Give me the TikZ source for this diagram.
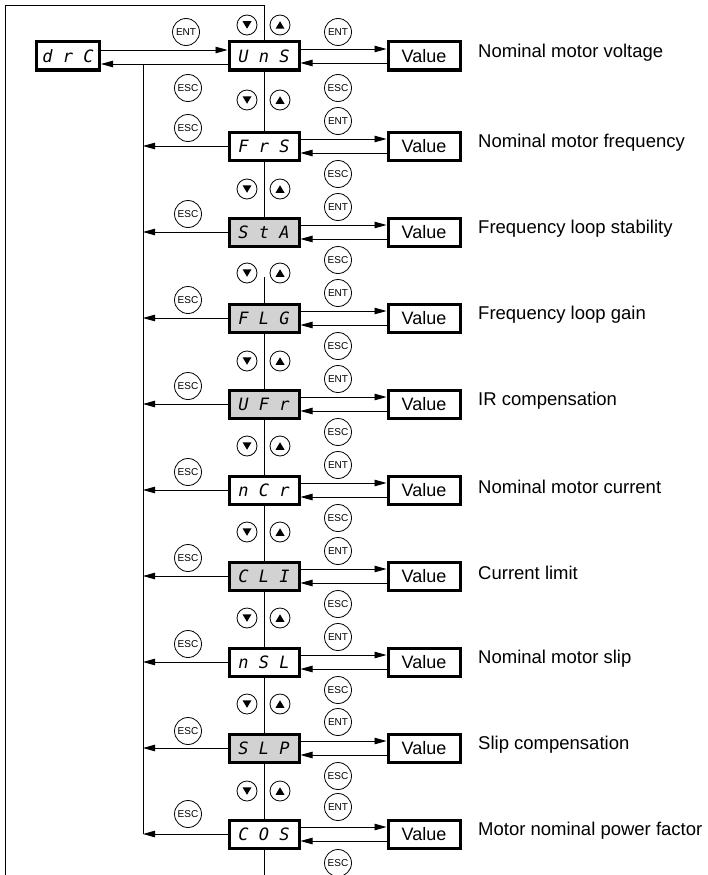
\documentclass[tikz,border=0pt]{standalone}
\usepackage{fontspec}
\setmainfont{Liberation Sans}
\newfontfamily\segfont{DejaVu Sans Mono}
\usetikzlibrary{arrows.meta}

\tikzset{
  wire/.style = {line width=0.9pt},
  arr/.style = {wire, -{Triangle[length=12pt,width=6.5pt]}},
  disp/.style = {draw, line width=3pt, minimum width=70pt, minimum height=28pt,
    inner sep=0pt, font=\segfont\itshape\fontsize{17}{17}\selectfont},
  dispgrey/.style = {disp, fill=gray!35},
  valbox/.style = {draw, line width=3pt, minimum width=72pt, minimum height=28pt,
    inner sep=0pt, font=\fontsize{18}{18}\selectfont},
  descr/.style = {anchor=west, inner sep=0pt, font=\fontsize{18.5}{18.5}\selectfont},
  btnkey/.style = {circle, draw, line width=0.8pt, minimum size=27pt, inner sep=0pt,
    font=\fontsize{10}{10}\selectfont},
  btndown/.style = {circle, draw, line width=0.8pt, minimum size=20pt, inner sep=0pt,
    path picture={\fill ([shift={(-4.5pt,3.75pt)}]path picture bounding box.center)
      -- ++(9pt,0pt) -- ++(-4.5pt,-7.5pt) -- cycle;}},
  btnup/.style = {circle, draw, line width=0.8pt, minimum size=20pt, inner sep=0pt,
    path picture={\fill ([shift={(-4.5pt,-3.75pt)}]path picture bounding box.center)
      -- ++(9pt,0pt) -- ++(-4.5pt,7.5pt) -- cycle;}}
}

\begin{document}
\begin{tikzpicture}[x=1pt,y=-1pt]
\useasboundingbox (0,0) rectangle (707,875);

% menu entry
\node[disp, minimum width=63pt] (drc) at (68,56) {d r C};

\begin{scope}[shift = {(0,56)}]
\node[disp] (uns) at (264,0) {U n S};
\node[valbox] (unsv) at (424,0) {Value};
\node[descr] (unsd) at (478,-3) {Nominal motor voltage};
\node[btnkey] (unsent) at (338,-24) {ENT};
\node[btnkey] (unsesc) at (338,32) {ESC};
\node[btnkey] (drcent) at (186,-24) {ENT};
\node[btnkey] (drcesc) at (188,32) {ESC};
\node[btndown] (unsdn) at (247,-31) {};
\node[btnup] (unsup) at (280,-31) {};
\draw[arr] ([yshift=7pt]uns.east) -- ([yshift=7pt]unsv.west);
\draw[arr] ([yshift=-7pt]unsv.west) -- ([yshift=-7pt]uns.east);
\draw[arr] ([yshift=6pt]drc.east) -- ([yshift=6pt]uns.west);
\draw[arr] ([yshift=-8pt]uns.west) -- ([yshift=-8pt]drc.east);
\end{scope}

% frame and return bus
\coordinate (frbl) at (5,875);
\coordinate (frtl) at (5,5);
\coordinate (frtr) at (264,5);
\draw[wire] (frbl) -- (frtl) -- (frtr) -- (uns.north);
\coordinate (bustop) at (143,64);
\coordinate (busbot) at (143,834);
\draw[wire] (bustop) -- (busbot);

\begin{scope}[shift = {(0,146)}]
\node[disp] (frs) at (264,0) {F r S};
\node[valbox] (frsv) at (424,0) {Value};
\node[descr] (frsd) at (478,-3) {Nominal motor frequency};
\node[btnkey] (frsent) at (338,-25) {ENT};
\node[btnkey] (frsesc) at (338,28) {ESC};
\node[btnkey] (frsback) at (188,-18) {ESC};
\node[btndown] (frsdn) at (247,-46) {};
\node[btnup] (frsup) at (280,-46) {};
\draw[arr] ([yshift=7pt]frs.east) -- ([yshift=7pt]frsv.west);
\draw[arr] ([yshift=-7pt]frsv.west) -- ([yshift=-7pt]frs.east);
\draw[arr] (frs.west) -- (frs.west -| bustop);
\draw[wire] (uns.south) -- (frs.north);
\end{scope}

\begin{scope}[shift = {(0,232)}]
\node[dispgrey] (sta) at (264,0) {S t A};
\node[valbox] (stav) at (424,0) {Value};
\node[descr] (stad) at (478,-3) {Frequency loop stability};
\node[btnkey] (staent) at (338,-25) {ENT};
\node[btnkey] (staesc) at (338,28) {ESC};
\node[btnkey] (staback) at (188,-18) {ESC};
\node[btndown] (stadn) at (247,-43) {};
\node[btnup] (staup) at (280,-43) {};
\draw[arr] ([yshift=7pt]sta.east) -- ([yshift=7pt]stav.west);
\draw[arr] ([yshift=-7pt]stav.west) -- ([yshift=-7pt]sta.east);
\draw[arr] (sta.west) -- (sta.west -| bustop);
\draw[wire] (frs.south) -- (sta.north);
\end{scope}

\begin{scope}[shift = {(0,318)}]
\node[dispgrey] (flg) at (264,0) {F L G};
\node[valbox] (flgv) at (424,0) {Value};
\node[descr] (flgd) at (478,-3) {Frequency loop gain};
\node[btnkey] (flgent) at (338,-25) {ENT};
\node[btnkey] (flgesc) at (338,28) {ESC};
\node[btnkey] (flgback) at (188,-18) {ESC};
\node[btndown] (flgdn) at (247,-45) {};
\node[btnup] (flgup) at (280,-45) {};
\coordinate (flgtop) at (264,-41);
\draw[arr] ([yshift=7pt]flg.east) -- ([yshift=7pt]flgv.west);
\draw[arr] ([yshift=-7pt]flgv.west) -- ([yshift=-7pt]flg.east);
\draw[arr] (flg.west) -- (flg.west -| bustop);
\draw[wire] (flgtop) -- (flg.north);
\end{scope}

\begin{scope}[shift = {(0,404)}]
\node[dispgrey] (ufr) at (264,0) {U F r};
\node[valbox] (ufrv) at (424,0) {Value};
\node[descr] (ufrd) at (478,-3) {IR compensation};
\node[btnkey] (ufrent) at (338,-25) {ENT};
\node[btnkey] (ufresc) at (338,28) {ESC};
\node[btnkey] (ufrback) at (188,-18) {ESC};
\node[btndown] (ufrdn) at (247,-43) {};
\node[btnup] (ufrup) at (280,-43) {};
\draw[arr] ([yshift=7pt]ufr.east) -- ([yshift=7pt]ufrv.west);
\draw[arr] ([yshift=-7pt]ufrv.west) -- ([yshift=-7pt]ufr.east);
\draw[arr] (ufr.west) -- (ufr.west -| bustop);
\draw[wire] (flg.south) -- (ufr.north);
\end{scope}

\begin{scope}[shift = {(0,490)}]
\node[disp] (ncr) at (264,0) {n C r};
\node[valbox] (ncrv) at (424,0) {Value};
\node[descr] (ncrd) at (478,-3) {Nominal motor current};
\node[btnkey] (ncrent) at (338,-25) {ENT};
\node[btnkey] (ncresc) at (338,28) {ESC};
\node[btnkey] (ncrback) at (188,-18) {ESC};
\node[btndown] (ncrdn) at (247,-44) {};
\node[btnup] (ncrup) at (280,-44) {};
\draw[arr] ([yshift=7pt]ncr.east) -- ([yshift=7pt]ncrv.west);
\draw[arr] ([yshift=-7pt]ncrv.west) -- ([yshift=-7pt]ncr.east);
\draw[arr] (ncr.west) -- (ncr.west -| bustop);
\draw[wire] (ufr.south) -- (ncr.north);
\end{scope}

\begin{scope}[shift = {(0,576)}]
\node[dispgrey] (cli) at (264,0) {C L I};
\node[valbox] (cliv) at (424,0) {Value};
\node[descr] (clid) at (478,-3) {Current limit};
\node[btnkey] (client) at (338,-25) {ENT};
\node[btnkey] (cliesc) at (338,28) {ESC};
\node[btnkey] (cliback) at (188,-18) {ESC};
\node[btndown] (clidn) at (247,-44) {};
\node[btnup] (cliup) at (280,-44) {};
\draw[arr] ([yshift=7pt]cli.east) -- ([yshift=7pt]cliv.west);
\draw[arr] ([yshift=-7pt]cliv.west) -- ([yshift=-7pt]cli.east);
\draw[arr] (cli.west) -- (cli.west -| bustop);
\draw[wire] (ncr.south) -- (cli.north);
\end{scope}

\begin{scope}[shift = {(0,662)}]
\node[disp] (nsl) at (264,0) {n S L};
\node[valbox] (nslv) at (424,0) {Value};
\node[descr] (nsld) at (478,-3) {Nominal motor slip};
\node[btnkey] (nslent) at (338,-25) {ENT};
\node[btnkey] (nslesc) at (338,28) {ESC};
\node[btnkey] (nslback) at (188,-18) {ESC};
\node[btndown] (nsldn) at (247,-44) {};
\node[btnup] (nslup) at (280,-44) {};
\draw[arr] ([yshift=7pt]nsl.east) -- ([yshift=7pt]nslv.west);
\draw[arr] ([yshift=-7pt]nslv.west) -- ([yshift=-7pt]nsl.east);
\draw[arr] (nsl.west) -- (nsl.west -| bustop);
\draw[wire] (cli.south) -- (nsl.north);
\end{scope}

\begin{scope}[shift = {(0,748)}]
\node[dispgrey] (slp) at (264,0) {S L P};
\node[valbox] (slpv) at (424,0) {Value};
\node[descr] (slpd) at (478,-3) {Slip compensation};
\node[btnkey] (slpent) at (338,-26) {ENT};
\node[btnkey] (slpesc) at (338,28) {ESC};
\node[btnkey] (slpback) at (188,-17) {ESC};
\node[btndown] (slpdn) at (247,-44) {};
\node[btnup] (slpup) at (280,-44) {};
\draw[arr] ([yshift=7pt]slp.east) -- ([yshift=7pt]slpv.west);
\draw[arr] ([yshift=-7pt]slpv.west) -- ([yshift=-7pt]slp.east);
\draw[arr] (slp.west) -- (slp.west -| bustop);
\draw[wire] (nsl.south) -- (slp.north);
\end{scope}

\begin{scope}[shift = {(0,834)}]
\node[disp] (cos) at (264,0) {C O S};
\node[valbox] (cosv) at (424,0) {Value};
\node[descr] (cosd) at (478,-3) {Motor nominal power factor};
\node[btnkey] (cosent) at (338,-27) {ENT};
\node[btnkey] (cosesc) at (338,29) {ESC};
\node[btnkey] (cosback) at (188,-20) {ESC};
\node[btndown] (cosdn) at (247,-43) {};
\node[btnup] (cosup) at (280,-43) {};
\coordinate (cosend) at (264,41);
\draw[arr] ([yshift=7pt]cos.east) -- ([yshift=7pt]cosv.west);
\draw[arr] ([yshift=-7pt]cosv.west) -- ([yshift=-7pt]cos.east);
\draw[arr] (cos.west) -- (cos.west -| bustop);
\draw[wire] (slp.south) -- (cos.north);
\draw[wire] (cos.south) -- (cosend);
\end{scope}
\end{tikzpicture}
\end{document}
